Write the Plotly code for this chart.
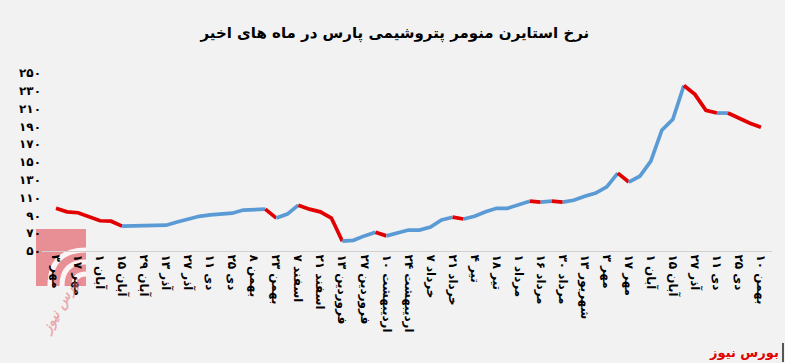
import plotly.graph_objects as go

# ---- data ----
tick_labels = [
    "۳ مهر", "۱۷ مهر", "۱ آبان", "۱۵ آبان", "۲۹ آبان", "۱۳ آذر", "۲۷ آذر",
    "۱۱ دی", "۲۵ دی", "۸ بهمن", "۲۳ بهمن", "۷ اسفند", "۲۱ اسفند",
    "۱۳ فروردین", "۲۷ فروردین", "۱۰ اردیبهشت", "۲۴ اردیبهشت", "۷ خرداد",
    "۲۱ خرداد", "۴ تیر", "۱۸ تیر", "۱ مرداد", "۱۶ مرداد", "۳۰ مرداد",
    "۱۳ شهریور", "۳ مهر", "۱۷ مهر", "۱ آبان", "۱۵ آبان", "۲۷ آذر",
    "۱۱ دی", "۲۵ دی", "۱۰ بهمن",
]
prices = [
    98, 94, 93, 88, 84, 83.5, 78, 78, 78, 78.5,
    79, 82.5, 86, 89, 90.5, 91.5, 92.5, 96, 96.5, 97,
    87, 91.5, 101.5, 97, 94, 87, 61, 62, 67, 71,
    67, 70, 73.5, 73.5, 77, 85, 88, 86, 89, 94,
    98, 98, 102.5, 106, 105, 106, 105, 107, 111.5, 115,
    122, 137.5, 127.5, 134, 151, 185.7, 198, 236, 226, 208,
    205, 205, 199, 193.6, 189,
]
y_ticks = [50, 70, 90, 110, 130, 150, 170, 190, 210, 230, 250]
title_text = "نرخ استایرن منومر پتروشیمی پارس در ماه های اخیر"
source_text = "بورس نیوز"

FA = str.maketrans("0123456789", "۰۱۲۳۴۵۶۷۸۹")
y_tick_text = [str(v).translate(FA) for v in y_ticks]

RED = "#e30000"
BLUE = "#5b9bd5"
FONT = "DejaVu Sans"

x = list(range(len(prices)))

fig = go.Figure()

# split line into colour runs: falling = red, rising/flat = blue
seg_colors = [RED if prices[i + 1] < prices[i] else BLUE for i in range(len(prices) - 1)]
start = 0
for i in range(1, len(seg_colors) + 1):
    if i == len(seg_colors) or seg_colors[i] != seg_colors[start]:
        fig.add_trace(go.Scatter(
            x=x[start:i + 1], y=prices[start:i + 1], mode="lines",
            line=dict(color=seg_colors[start], width=3.7),
            hoverinfo="skip", showlegend=False,
        ))
        start = i

W, H = 785, 363
L, R, T, B = 42, 13, 73, 112
PW, PH = W - L - R, H - T - B


def px(xp):
    return (xp - L) / PW


def py(yp):
    return (H - B - yp) / PH


shapes = []
# watermark logo (approximation)
shapes.append(dict(type="rect", xref="paper", yref="paper",
                   x0=px(36), x1=px(86), y0=py(286), y1=py(229),
                   fillcolor="rgba(228,110,118,0.75)", line=dict(width=0), layer="below"))
for r in (12, 24, 36):
    cx, cy = 86, 286
    path = "M {:.5f},{:.5f} Q {:.5f},{:.5f} {:.5f},{:.5f}".format(
        px(cx), py(cy - r), px(cx - r), py(cy - r), px(cx - r), py(cy))
    shapes.append(dict(type="path", xref="paper", yref="paper", path=path,
                       line=dict(color="rgba(255,255,255,0.9)", width=5), layer="below"))
# small vertical bar at right edge, bottom
shapes.append(dict(type="line", xref="paper", yref="paper",
                   x0=px(783), x1=px(783), y0=py(343), y1=py(362),
                   line=dict(color="#222222", width=1.5)))

fig.update_layout(
    width=W, height=H,
    margin=dict(l=L, r=R, t=T, b=B),
    paper_bgcolor="#f2f2f2",
    plot_bgcolor="#f2f2f2",
    font=dict(family=FONT, color="#000000"),
    title=dict(text=title_text, x=0.503, xref="container", y=1 - 33 / H,
               yanchor="middle", xanchor="center",
               font=dict(family=FONT, size=15, color="#000000", weight="bold")),
    xaxis=dict(
        range=[-1.27, 65.0],
        tickmode="array",
        tickvals=x[::2],
        ticktext=tick_labels,
        tickangle=90,
        tickfont=dict(family=FONT, size=12, color="#000000", weight="bold"),
        showgrid=False, zeroline=False,
        showline=True, linecolor="#d0d0d0", linewidth=1,
        ticks="",
    ),
    yaxis=dict(
        range=[50, 250],
        tickmode="array",
        tickvals=y_ticks,
        ticktext=y_tick_text,
        tickfont=dict(family=FONT, size=12, color="#000000", weight="bold"),
        showgrid=False, zeroline=False, showline=False,
        ticks="",
    ),
    shapes=shapes,
    annotations=[
        dict(text=source_text, xref="paper", yref="paper",
             x=px(781), y=py(352), xanchor="right", yanchor="middle",
             showarrow=False,
             font=dict(family=FONT, size=13, color=RED, weight="bold")),
        dict(text=source_text, xref="paper", yref="paper",
             x=px(60), y=py(305), xanchor="center", yanchor="middle",
             showarrow=False, textangle=-60,
             font=dict(family=FONT, size=14, color="rgba(228,110,118,0.55)",
                       style="italic", weight="bold")),
    ],
)

fig.write_html("out.html", config={"displayModeBar": False},
               post_script="document.body.style.margin='0';")
